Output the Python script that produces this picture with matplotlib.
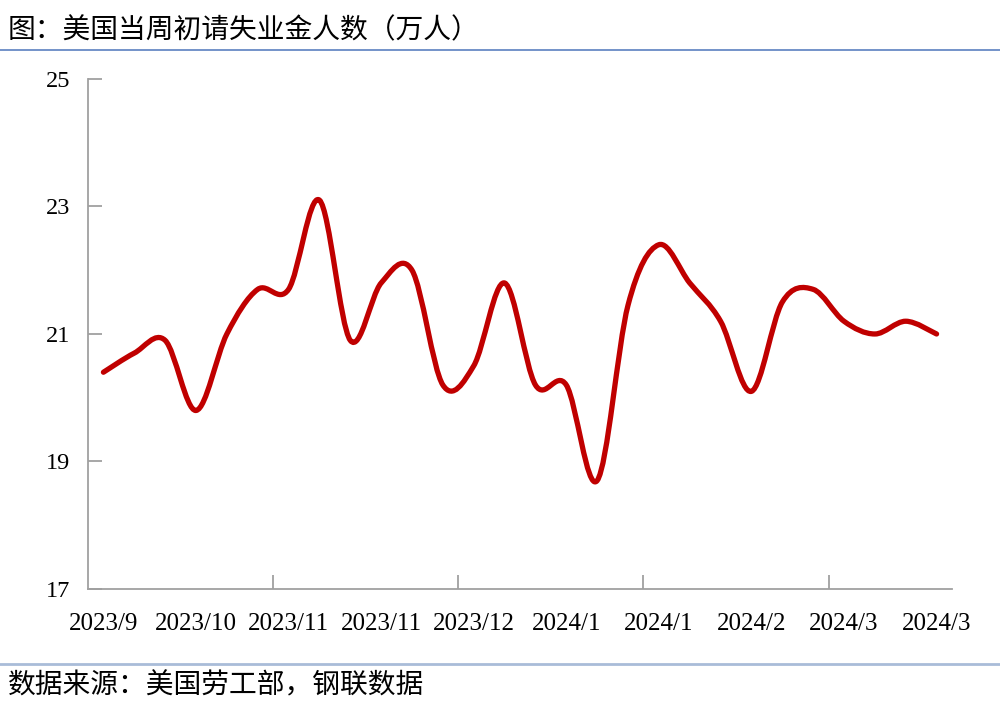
import matplotlib.pyplot as plt
from matplotlib.path import Path
from matplotlib.patches import PathPatch

plt.rcParams['font.family'] = ['Noto Sans CJK SC', 'DejaVu Sans']

# weekly initial jobless claims (10k persons), 2023-09-23 .. 2024-03-30
claims = [20.4, 20.7, 20.9, 19.8, 21.0, 21.7, 21.7, 23.1, 20.9, 21.8,
          22.0, 20.2, 20.5, 21.8, 20.2, 20.2, 18.7, 21.45, 22.4, 21.8,
          21.2, 20.1, 21.5, 21.7, 21.2, 21.0, 21.2, 21.0]
week_labels = ['2023/9', '2023/10', '2023/11', '2023/11', '2023/12',
               '2024/1', '2024/1', '2024/2', '2024/3', '2024/3']
label_every = 3
yticks = [17, 19, 21, 23, 25]

title = '图：美国当周初请失业金人数（万人）'
source = '数据来源：美国劳工部，钢联数据'

fig = plt.figure(figsize=(10, 7.16), dpi=100)
ax = fig.add_axes([0.088, 0.1774, 0.864, 0.7123])

# smoothed line like Excel (cubic bezier through the points)
xs = [i + 0.5 for i in range(len(claims))]
pts = list(zip(xs, claims))
verts = [pts[0]]
codes = [Path.MOVETO]
n = len(pts)
for i in range(n - 1):
    p0 = pts[i - 1] if i > 0 else pts[i]
    p1 = pts[i]
    p2 = pts[i + 1]
    p3 = pts[i + 2] if i + 2 < n else pts[i + 1]
    c1 = (p1[0] + (p2[0] - p0[0]) / 6, p1[1] + (p2[1] - p0[1]) / 6)
    c2 = (p2[0] - (p3[0] - p1[0]) / 6, p2[1] - (p3[1] - p1[1]) / 6)
    verts += [c1, c2, p2]
    codes += [Path.CURVE4] * 3
ax.add_patch(PathPatch(Path(verts, codes), facecolor='none',
                       edgecolor='#c00000', lw=3.8, capstyle='round',
                       joinstyle='round'))

ax.set_xlim(0, len(claims))
ax.set_ylim(17, 25)
ax.set_yticks(yticks)
ax.set_yticklabels([str(v) for v in yticks], family='Liberation Serif',
                   fontsize=17.5)

# tick marks every 6 weeks, labels every 3 weeks
ax.set_xticks([6, 12, 18, 24])
ax.set_xticklabels([])
for k, lab in enumerate(week_labels):
    ax.text(xs[k * label_every], 16.62, lab, ha='center', va='top',
            family='Liberation Serif', fontsize=18,
            transform=ax.transData)

for s in ['top', 'right']:
    ax.spines[s].set_visible(False)
for s in ['left', 'bottom']:
    ax.spines[s].set_color('#a0a0a0')
    ax.spines[s].set_linewidth(1.3)
ax.tick_params(axis='both', direction='in', length=10, width=1.3,
               color='#a0a0a0')
ax.tick_params(axis='y', pad=13)

fig.text(0.008, 0.958, title, fontsize=20, va='center', ha='left')
fig.add_artist(plt.Line2D([0, 1], [0.930, 0.930], color='#5b80c0', lw=1.2,
                          transform=fig.transFigure))
fig.add_artist(plt.Line2D([0, 1], [0.073, 0.073], color='#a9bcd8', lw=2,
                          transform=fig.transFigure))
fig.text(0.008, 0.043, source, fontsize=20, va='center', ha='left')

plt.savefig('out.png', dpi=100)
